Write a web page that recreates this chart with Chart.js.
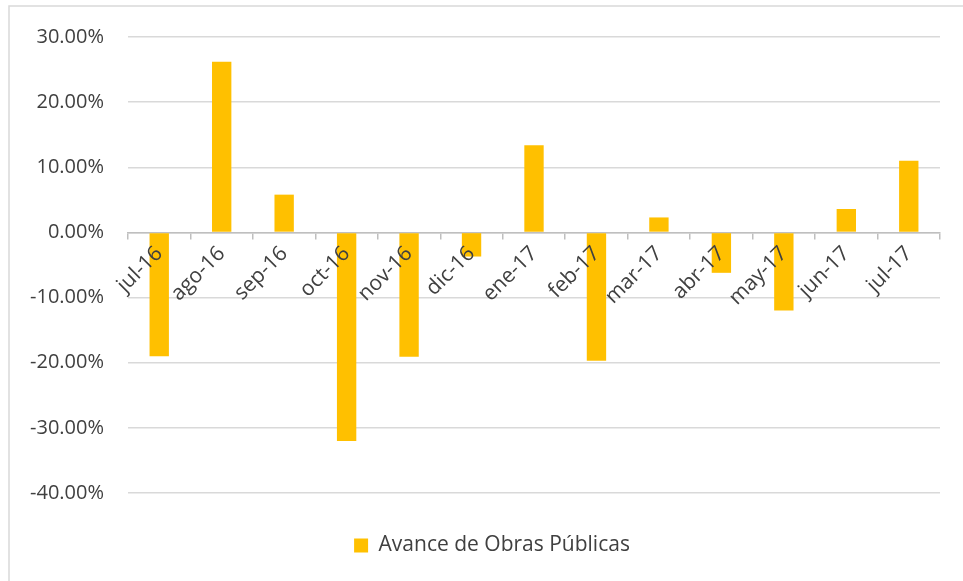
<!DOCTYPE html>
<html>
<head>
<meta charset="utf-8">
<script src="https://cdn.jsdelivr.net/npm/chart.js@4/dist/chart.umd.min.js"></script>
<style>
  html, body { margin: 0; padding: 0; background: #ffffff; }
  #wrap { position: relative; width: 963px; height: 581px; }
</style>
</head>
<body>
<div id="wrap"><canvas id="chart" width="963" height="581"></canvas></div>
<script>
// Monthly change in public works progress
const months = ['jul-16', 'ago-16', 'sep-16', 'oct-16', 'nov-16', 'dic-16', 'ene-17',
                'feb-17', 'mar-17', 'abr-17', 'may-17', 'jun-17', 'jul-17'];
const avanceObras = [-19.0, 26.2, 5.8, -32.0, -19.1, -3.7, 13.4, -19.7, 2.3, -6.2, -12.0, 3.6, 11.0];
const yTicks = [-40, -30, -20, -10, 0, 10, 20, 30];
const seriesName = 'Avance de Obras Públicas';

const FONT = '"Open Sans", Lato, sans-serif';
const TEXT = '#404040';

// thin frame along the top and left edge of the chart object
const framePlugin = {
  id: 'frame',
  beforeDraw(chart) {
    const ctx = chart.ctx;
    ctx.save();
    ctx.strokeStyle = '#d9d9d9';
    ctx.lineWidth = 1.5;
    ctx.beginPath();
    ctx.moveTo(9, chart.height);
    ctx.lineTo(9, 6);
    ctx.lineTo(chart.width, 6);
    ctx.stroke();
    ctx.restore();
  }
};

// centre the legend under the whole frame rather than the padded area
const legendShift = {
  id: 'legendShift',
  afterLayout(chart) {
    if (chart.legend) {
      chart.legend.left += 22;
      chart.legend.right += 22;
      chart.legend.top += 1;
      chart.legend.bottom += 1;
    }
  }
};

new Chart(document.getElementById('chart'), {
  type: 'bar',
  data: {
    labels: months,
    datasets: [{
      label: seriesName,
      data: avanceObras,
      backgroundColor: '#FFC000',
      borderWidth: 0,
      barPercentage: 0.31,
      categoryPercentage: 1.0
    }]
  },
  options: {
    responsive: false,
    animation: false,
    layout: { padding: { top: 37, right: 23, bottom: 16, left: 0 } },
    plugins: {
      legend: {
        position: 'bottom',
        labels: {
          boxWidth: 14,
          boxHeight: 14,
          padding: 41,
          color: TEXT,
          font: { family: FONT, size: 21 }
        }
      },
      tooltip: { enabled: false }
    },
    scales: {
      x: {
        position: { y: 0 },
        z: 1,
        offset: true,
        grid: {
          offset: true,
          drawOnChartArea: false,
          drawTicks: true,
          tickLength: 6,
          color: '#bfbfbf',
          lineWidth: 1.5
        },
        border: { display: true, color: '#bfbfbf', width: 1.5 },
        ticks: {
          z: 1,
          minRotation: 45,
          maxRotation: 45,
          autoSkip: false,
          padding: 3,
          color: TEXT,
          font: { family: FONT, size: 21 }
        },
        afterFit(scale) { scale.height = 0; }
      },
      y: {
        min: -40,
        max: 30,
        afterBuildTicks(scale) { scale.ticks = yTicks.map(v => ({ value: v })); },
        grid: { color: '#d9d9d9', lineWidth: 1.5, drawTicks: false },
        border: { display: false },
        ticks: {
          padding: 24,
          color: TEXT,
          font: { family: FONT, size: 20 },
          callback: v => v.toFixed(2) + '%'
        },
        afterFit(scale) { scale.width = 128; }
      }
    }
  },
  plugins: [framePlugin, legendShift]
});
</script>
</body>
</html>
